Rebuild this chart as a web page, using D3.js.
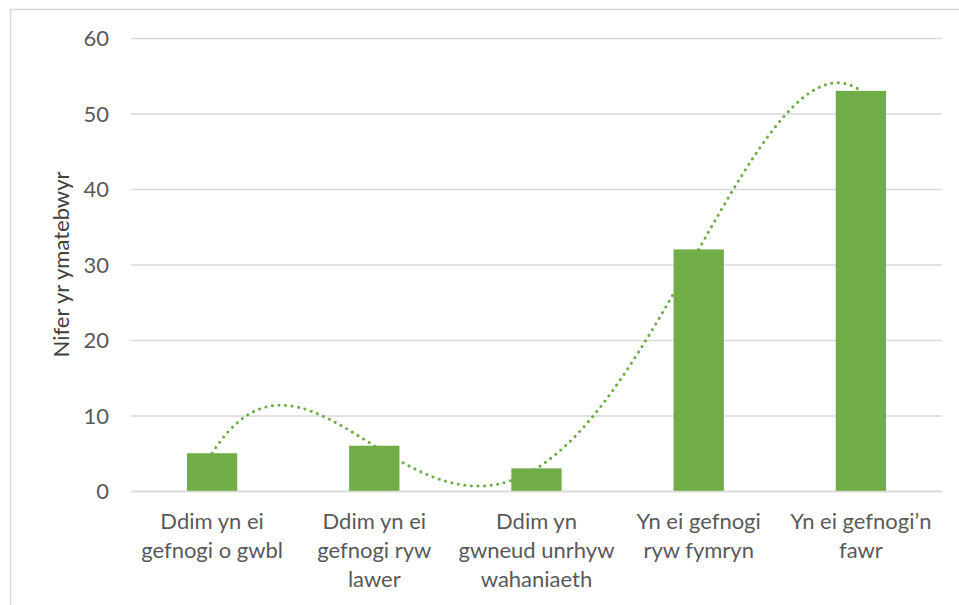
<!DOCTYPE html>
<html>
<head>
<meta charset="utf-8">
<script src="https://cdn.jsdelivr.net/npm/d3@7"></script>
<style>
  html, body { margin: 0; padding: 0; background: #fff; }
  svg { display: block; }
  text { font-family: Lato, "Open Sans", sans-serif; }
</style>
</head>
<body>
<svg id="chart" width="959" height="605"></svg>
<script>
// ---- data ----
const categories = [
  "Ddim yn ei\ngefnogi o gwbl",
  "Ddim yn ei\ngefnogi ryw\nlawer",
  "Ddim yn\ngwneud unrhyw\nwahaniaeth",
  "Yn ei gefnogi\nryw fymryn",
  "Yn ei gefnogi\u2019n\nfawr"
];
const values = [5, 6, 3, 32, 53];
const yTicks = [0, 10, 20, 30, 40, 50, 60];
const yTitle = "Nifer yr ymatebwyr";
const trendOrder = 4; // polynomial trendline (order 4)

// ---- layout ----
const W = 959, H = 605;
const plot = { left: 131, right: 942, top: 38, bottom: 491 };
const green = "#70AD47";
const grid = "#D9D9D9";
const txt = "#595959";
const fs = "22px";

const svg = d3.select("#chart");

// chart area border
svg.append("rect")
  .attr("x", 10.5).attr("y", 9.5)
  .attr("width", W + 20).attr("height", H + 20)
  .attr("fill", "#fff").attr("stroke", grid).attr("stroke-width", 1.5);

const x = d3.scaleBand().domain(categories).range([plot.left, plot.right]).paddingInner(0.69).paddingOuter(0.345);
const y = d3.scaleLinear().domain([0, 60]).range([plot.bottom, plot.top]);

// gridlines via axis
const yAxis = d3.axisLeft(y).tickValues(yTicks).tickSize(-(plot.right - plot.left)).tickPadding(22).tickFormat(d3.format("d"));
const gy = svg.append("g").attr("transform", `translate(${plot.left},0)`).call(yAxis);
gy.select(".domain").remove();
gy.selectAll(".tick line").attr("stroke", grid).attr("stroke-width", 1.5);
gy.selectAll(".tick text").attr("fill", txt).style("font-size", fs).attr("dy", "0.36em");

// bars
svg.append("g").selectAll("rect").data(values).join("rect")
  .attr("x", (d, i) => x(categories[i]))
  .attr("y", d => y(d))
  .attr("width", x.bandwidth())
  .attr("height", d => y(0) - y(d))
  .attr("fill", green);

// category axis line
const xAxis = d3.axisBottom(x).tickSize(0).tickPadding(0).tickFormat("");
const gx = svg.append("g").attr("transform", `translate(0,${plot.bottom})`).call(xAxis);
gx.select(".domain").attr("stroke", grid).attr("stroke-width", 1.5);

// category labels
const lineH = 29;
const labelG = svg.append("g");
categories.forEach((c) => {
  const cx = x(c) + x.bandwidth() / 2;
  const t = labelG.append("text").attr("text-anchor", "middle").attr("fill", txt).style("font-size", fs);
  c.split("\n").forEach((l, k) => {
    t.append("tspan").attr("x", cx).attr("y", 529 + k * lineH).text(l);
  });
});

// polynomial trendline (least squares, order 4 through 5 points)
function polyFit(xs, ys, order) {
  const n = order + 1;
  const A = [];
  for (let r = 0; r < n; r++) {
    const row = [];
    for (let c = 0; c < n; c++) {
      let s = 0;
      for (let k = 0; k < xs.length; k++) s += Math.pow(xs[k], r + c);
      row.push(s);
    }
    let s = 0;
    for (let k = 0; k < xs.length; k++) s += ys[k] * Math.pow(xs[k], r);
    row.push(s);
    A.push(row);
  }
  for (let i = 0; i < n; i++) {
    let p = i;
    for (let r = i + 1; r < n; r++) { if (Math.abs(A[r][i]) > Math.abs(A[p][i])) p = r; }
    const tmp = A[i]; A[i] = A[p]; A[p] = tmp;
    for (let r = 0; r < n; r++) {
      if (r === i) continue;
      const f = A[r][i] / A[i][i];
      for (let c = i; c <= n; c++) A[r][c] -= f * A[i][c];
    }
  }
  return A.map((row, i) => row[n] / row[i]);
}
const xs = values.map((d, i) => i + 1);
const coef = polyFit(xs, values, trendOrder);
const poly = t => coef.reduce((s, c, k) => s + c * Math.pow(t, k), 0);
const xi = d3.scaleLinear().domain([1, values.length])
  .range([x(categories[0]) + x.bandwidth() / 2, x(categories[categories.length - 1]) + x.bandwidth() / 2]);
const samples = d3.range(1, values.length + 0.0001, 0.02);
svg.append("path")
  .datum(samples)
  .attr("d", d3.line().x(t => xi(t)).y(t => y(poly(t))))
  .attr("fill", "none").attr("stroke", green).attr("stroke-width", 3)
  .attr("stroke-linecap", "round").attr("stroke-dasharray", "0.1 6.5");

// y axis title
svg.append("text")
  .attr("transform", `translate(69,${(plot.top + plot.bottom) / 2}) rotate(-90)`)
  .attr("text-anchor", "middle").attr("fill", "#404040")
  .style("font-size", "22px")
  .text(yTitle);
</script>
</body>
</html>
